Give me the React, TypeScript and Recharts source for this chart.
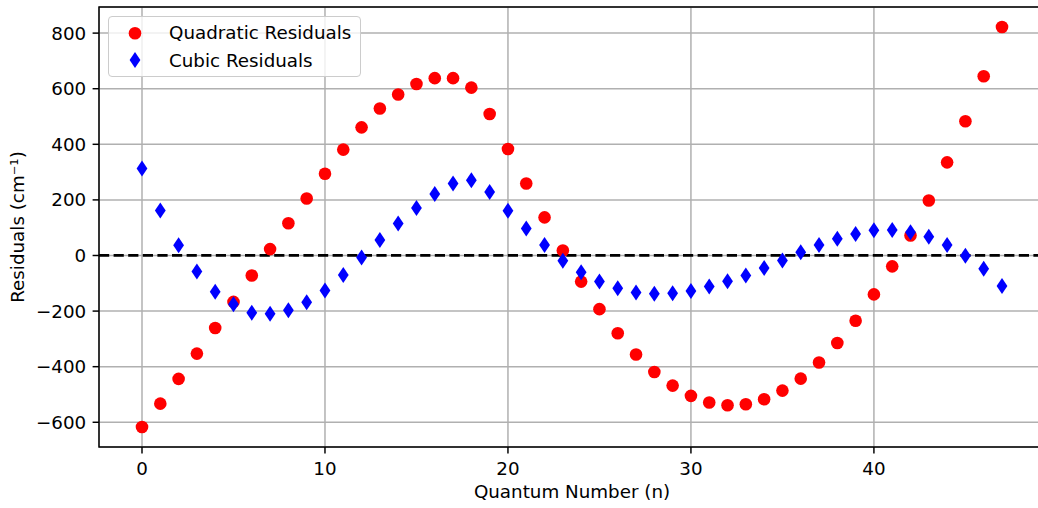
import React from 'react';
import {
  ScatterChart,
  Scatter,
  XAxis,
  YAxis,
  CartesianGrid,
  ReferenceLine,
  ReferenceArea,
  Legend,
} from 'recharts';

// Quantum numbers n
const quantumNumbers = [
  0, 1, 2, 3, 4, 5, 6, 7, 8, 9, 10, 11, 12, 13, 14, 15, 16, 17, 18, 19, 20, 21, 22, 23,
  24, 25, 26, 27, 28, 29, 30, 31, 32, 33, 34, 35, 36, 37, 38, 39, 40, 41, 42, 43, 44, 45, 46, 47,
];

// Residuals of the quadratic fit (cm^-1)
const quadraticResiduals = [
  -617, -533, -444, -353, -261, -167, -72, 23, 116, 205, 294, 381, 461, 529, 579, 617,
  638, 638, 604, 509, 383, 259, 137, 18, -94, -193, -280, -356, -419, -468, -505, -529,
  -539, -535, -517, -486, -443, -385, -315, -235, -140, -39, 72, 198, 335, 483, 645, 822,
];

// Residuals of the cubic fit (cm^-1)
const cubicResiduals = [
  313, 162, 37, -58, -130, -175, -206, -210, -197, -168, -126, -70, -7, 56, 115, 171,
  221, 259, 271, 228, 161, 97, 38, -19, -60, -94, -118, -133, -138, -136, -128, -112,
  -93, -72, -45, -18, 12, 38, 60, 77, 91, 92, 84, 67, 38, -1, -48, -110,
];

const xTicks = [0, 10, 20, 30, 40];
const yTicks = [-600, -400, -200, 0, 200, 400, 600, 800];

const seriesNames = ['Quadratic Residuals', 'Cubic Residuals'];

const quadraticData = quantumNumbers.map((n, i) => ({ n, r: quadraticResiduals[i] }));
const cubicData = quantumNumbers.map((n, i) => ({ n, r: cubicResiduals[i] }));

// axis limits with 5% padding around the data
const pad = (lo: number, hi: number): [number, number] => {
  const d = (hi - lo) * 0.05;
  return [lo - d, hi + d];
};
const xDomain = pad(Math.min(...quantumNumbers), Math.max(...quantumNumbers));
const allRes = [...quadraticResiduals, ...cubicResiduals];
const yDomain = pad(Math.min(...allRes), Math.max(...allRes));

const FONT = '"DejaVu Sans", sans-serif';
const FS = 18.3;
const RED = '#ff0000';
const BLUE = '#0000ff';

const fmt = (v: number) => (v < 0 ? '\u2212' + Math.abs(v) : String(v));

const Dot = (p: any) => <circle cx={p.cx} cy={p.cy} r={6.3} fill={RED} />;
const ThinDiamond = (p: any) => {
  const { cx, cy } = p;
  const w = 5.4;
  const h = 8;
  return (
    <path
      d={`M${cx},${cy - h} L${cx + w},${cy} L${cx},${cy + h} L${cx - w},${cy} Z`}
      fill={BLUE}
    />
  );
};

const LegendBox = () => (
  <div
    style={{
      boxSizing: 'border-box',
      width: 253,
      height: 61,
      border: '1.5px solid #cccccc',
      borderRadius: 4,
      background: 'rgba(255,255,255,0.8)',
      position: 'relative',
    }}
  >
    <svg width={253} height={61} style={{ position: 'absolute', left: -1.5, top: -1.5 }}>
      <circle cx={27} cy={17.3} r={6.3} fill={RED} />
      <path d="M27,36 L32.4,44 L27,52 L21.6,44 Z" fill={BLUE} />
      <text x={61} y={23.3} fontFamily={FONT} fontSize={FS} fill="#000">
        {seriesNames[0]}
      </text>
      <text x={61} y={50.7} fontFamily={FONT} fontSize={FS} fill="#000">
        {seriesNames[1]}
      </text>
    </svg>
  </div>
);

export default function App() {
  return (
    <div
      style={{
        position: 'fixed',
        left: 0,
        top: 0,
        width: 1038,
        height: 508,
        overflow: 'hidden',
        background: '#fff',
      }}
    >
      <ScatterChart
        width={1060}
        height={508}
        margin={{ top: 7, right: 15, bottom: 0, left: 0 }}
      >
        <CartesianGrid stroke="#b0b0b0" strokeWidth={1.5} />
        <XAxis
          type="number"
          dataKey="n"
          domain={xDomain}
          ticks={xTicks}
          allowDataOverflow
          height={61}
          axisLine={false}
          tickSize={6.4}
          tickMargin={8.5}
          tickLine={{ stroke: '#000', strokeWidth: 1.47 }}
          tick={{ fill: '#000', fontFamily: FONT, fontSize: FS }}
          label={(props: any) => {
            const vb = props.viewBox;
            return (
              <text
                x={vb.x + vb.width / 2}
                y={vb.y + 51}
                textAnchor="middle"
                fontFamily={FONT}
                fontSize={FS}
                fill="#000"
              >
                Quantum Number (n)
              </text>
            );
          }}
        />
        <YAxis
          type="number"
          dataKey="r"
          domain={yDomain}
          ticks={yTicks}
          allowDataOverflow
          width={99}
          axisLine={false}
          tickSize={6.4}
          tickMargin={6.4}
          tickFormatter={fmt}
          tickLine={{ stroke: '#000', strokeWidth: 1.47 }}
          tick={{ fill: '#000', fontFamily: FONT, fontSize: FS }}
          label={(props: any) => {
            const vb = props.viewBox;
            const cx = 24;
            const cy = vb.y + vb.height / 2;
            return (
              <text
                x={cx}
                y={cy}
                transform={`rotate(-90 ${cx} ${cy})`}
                textAnchor="middle"
                fontFamily={FONT}
                fontSize={FS}
                fill="#000"
              >
                Residuals (cm⁻¹)
              </text>
            );
          }}
        />
        <Scatter
          name={seriesNames[0]}
          data={quadraticData}
          shape={Dot}
          isAnimationActive={false}
        />
        <Scatter
          name={seriesNames[1]}
          data={cubicData}
          shape={ThinDiamond}
          isAnimationActive={false}
        />
        <ReferenceLine
          y={0}
          stroke="#000"
          strokeWidth={2.75}
          strokeDasharray="10.2 4.4"
        />
        <ReferenceArea
          x1={xDomain[0]}
          x2={xDomain[1]}
          y1={yDomain[0]}
          y2={yDomain[1]}
          fill="none"
          fillOpacity={0}
          stroke="#000"
          strokeWidth={1.47}
        />
        <Legend
          layout="horizontal"
          verticalAlign="middle"
          align="center"
          wrapperStyle={{ left: 108, top: 16, width: 'auto', height: 'auto' }}
          content={() => <LegendBox />}
        />
      </ScatterChart>
    </div>
  );
}
